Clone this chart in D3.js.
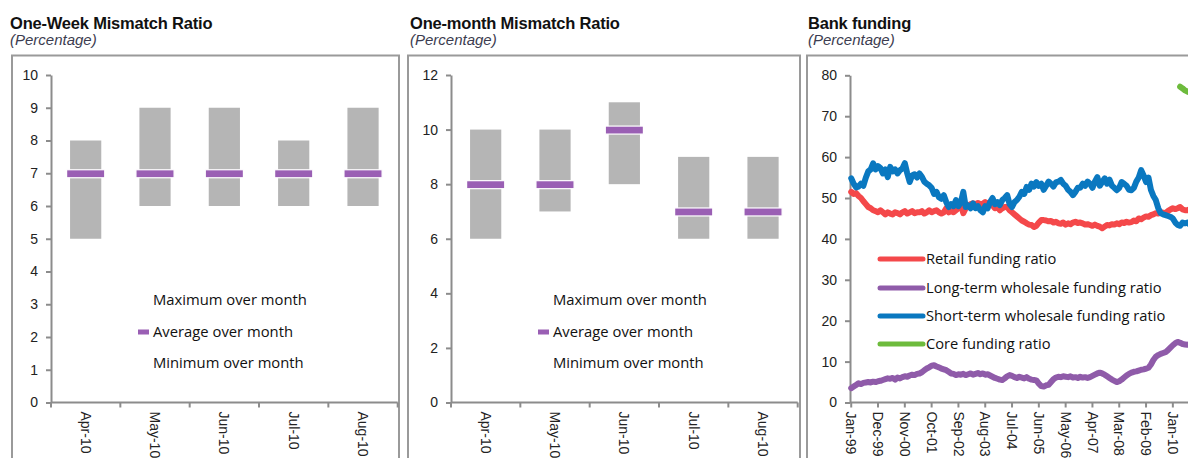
<!DOCTYPE html>
<html><head><meta charset="utf-8">
<script src="https://cdn.jsdelivr.net/npm/d3@7"></script>
<style>body{margin:0;background:#fff} svg{display:block}</style>
</head><body><svg id="c" width="1188" height="458"></svg>
<script>
// ---------- data ----------
const months = ["Apr-10","May-10","Jun-10","Jul-10","Aug-10"];
const weekMin = [5,6,6,6,6];
const weekMax = [8,9,9,8,9];
const weekAvg = [7,7,7,7,7];
const weekTicks = [0,1,2,3,4,5,6,7,8,9,10];
const monthMin = [6,7,8,6,6];
const monthMax = [10,10,11,9,9];
const monthAvg = [8,8,10,7,7];
const monthTicks = [0,2,4,6,8,10,12];
const barLegend = ["Maximum over month","Average over month","Minimum over month"];

const fundingFirstMonth = "1999-01";
const retail = [
51.5,51.0,51.2,50.5,50.0,49.2,48.5,47.8,47.5,47.0,
46.8,46.5,47.0,46.5,46.0,46.5,46.2,46.0,46.5,46.3,
46.0,46.5,46.8,46.2,46.5,46.8,46.3,46.5,46.5,46.8,
46.2,46.5,47.0,46.5,46.8,47.0,46.5,46.2,46.5,47.5,
46.5,46.8,46.5,47.0,47.5,48.5,46.3,47.5,48.0,48.5,
48.7,48.5,48.8,48.5,48.6,49.0,48.7,48.7,48.2,47.5,
47.8,47.0,47.5,47.8,47.8,47.0,46.5,46.0,45.5,45.0,
44.5,44.2,43.8,43.5,43.4,42.9,43.2,44.0,44.6,44.6,
44.5,44.3,44.4,44.0,44.2,43.8,43.7,44.0,43.5,43.8,
43.6,44.0,44.2,43.9,44.0,43.8,43.5,43.6,43.4,43.2,
43.5,43.2,43.0,42.6,43.0,43.4,43.3,43.6,43.5,43.8,
43.6,44.0,43.9,44.2,44.0,44.1,44.5,44.3,45.0,44.8,
45.2,45.5,45.4,45.8,46.0,46.3,46.2,46.5,46.4,46.3,
46.8,47.2,47.5,47.3,47.5,47.8,47.2,47.0,47.0,47.3,
47.1,47.0];
const longTerm = [
3.5,3.9,4.3,4.7,4.5,4.8,4.9,5.0,4.9,5.1,
5.0,5.2,5.3,5.5,5.7,5.9,5.8,6.0,5.6,6.1,
5.9,6.2,6.4,6.3,6.6,6.8,6.7,7.0,7.1,7.4,
7.9,8.3,8.6,9.0,9.1,8.8,8.6,8.3,8.1,7.9,
7.5,7.1,7.0,6.7,6.9,6.8,7.0,6.7,6.9,7.1,
6.8,7.0,7.2,6.9,7.1,6.8,6.9,6.6,6.3,6.0,
5.8,5.6,5.5,5.9,6.4,6.7,6.5,6.2,6.0,6.3,
6.1,5.9,6.2,5.8,5.6,5.5,5.4,4.6,4.0,3.9,
4.2,4.3,5.0,5.7,6.1,6.3,6.2,6.4,6.3,6.2,
6.4,6.1,6.2,6.0,6.3,6.1,6.2,6.0,6.2,6.5,
6.8,7.1,7.3,7.1,6.8,6.4,6.0,5.6,5.3,5.0,
5.2,5.6,6.1,6.6,7.0,7.3,7.5,7.6,7.8,8.0,
8.1,8.3,8.5,9.3,10.4,11.2,11.6,11.9,12.1,12.3,
12.8,13.4,14.0,14.5,14.8,14.6,14.3,14.2,14.1,14.3,
14.4,14.5];
const shortTerm = [
54.8,53.5,52.6,52.8,53.5,53.0,55.0,56.5,57.0,58.5,
57.0,57.8,57.3,56.0,57.0,55.1,57.6,56.5,57.0,56.0,
56.8,57.2,58.5,56.0,53.9,55.5,55.8,55.0,56.0,55.2,
54.0,53.5,53.1,52.5,51.0,51.5,50.2,49.8,50.7,49.0,
47.8,48.5,48.0,49.5,48.0,49.0,51.5,47.8,48.2,47.5,
48.7,47.5,48.0,47.0,46.5,48.0,47.5,49.0,50.0,48.5,
49.0,48.3,49.5,50.0,50.7,48.5,47.8,49.0,49.5,50.3,
51.5,51.0,52.7,52.0,53.5,52.8,53.9,53.0,53.5,52.0,
53.0,54.0,53.5,52.8,53.8,54.0,54.4,53.5,53.0,52.0,
51.5,50.7,51.5,52.5,52.5,53.5,53.0,54.0,53.5,52.5,
54.0,55.1,53.0,53.9,54.8,53.5,54.5,53.0,52.5,51.9,
52.5,53.9,53.5,53.0,52.0,51.9,52.5,54.0,55.0,56.8,
55.5,53.9,55.0,52.0,50.5,49.5,47.5,46.3,46.0,45.8,
45.6,45.4,45.0,44.0,43.4,43.2,44.0,43.8,44.0,43.5,
44.0,44.2];
const coreFirstMonth = "2010-04";
const core = [77.2,76.8,76.3,76.0,75.8,75.6,75.5];
const fundingTicks = [0,10,20,30,40,50,60,70,80];
const fundingLegend = ["Retail funding ratio","Long-term wholesale funding ratio","Short-term wholesale funding ratio","Core funding ratio"];

// ---------- styles ----------
const svg = d3.select("#c");
const GRID = "#8c8c8c", BAR = "#b5b5b5", AVG = "#9a5fb4";
const colors = ["#f4484a","#8f5ba9","#0a78c0","#6dbb3c"];
const TICKFONT = "Liberation Sans, Arial, sans-serif";
const LEGFONT = "Open Sans, sans-serif";

function header(x, title, sub) {
  svg.append("text").attr("x", x).attr("y", 29).text(title)
    .attr("font-family", TICKFONT).attr("font-weight", "bold").attr("font-size", 16.5)
    .attr("letter-spacing", -0.2).attr("fill", "#111");
  svg.append("text").attr("x", x).attr("y", 45).text(sub)
    .attr("font-family", TICKFONT).attr("font-style", "italic").attr("font-size", 15)
    .attr("fill", "#3c3c50");
}
function frame(x0, x1) {
  svg.append("rect").attr("x", x0).attr("y", 55.5).attr("width", x1 - x0).attr("height", 420)
    .attr("fill", "none").attr("stroke", "#9a9a9a").attr("stroke-width", 2);
}
function yAxis(g, y, ticks, x) {
  const ax = g.append("g").attr("transform", `translate(${x},0)`)
    .call(d3.axisLeft(y).tickValues(ticks).tickSize(5).tickSizeOuter(0).tickPadding(8));
  ax.select(".domain").attr("stroke", GRID).attr("stroke-width", 2);
  ax.selectAll(".tick line").attr("stroke", GRID).attr("stroke-width", 2);
  ax.selectAll("text").attr("font-family", TICKFONT).attr("font-size", 14).attr("fill", "#222");
}

function barPanel(o) {
  frame(o.frame[0], o.frame[1]);
  header(o.titleX, o.title, "(Percentage)");
  const g = svg.append("g");
  const y = d3.scaleLinear().domain([0, d3.max(o.ticks)]).range([402.5, 75]);
  const x = d3.scaleBand().domain(months).range(o.xr).padding(0);
  const bw = x.bandwidth() * 0.45;
  g.selectAll("rect.bar").data(months).join("rect").attr("class", "bar")
    .attr("x", d => x(d) + x.bandwidth() / 2 - bw / 2)
    .attr("y", (d, i) => y(o.max[i]))
    .attr("width", bw)
    .attr("height", (d, i) => y(o.min[i]) - y(o.max[i]))
    .attr("fill", BAR);
  const mw = x.bandwidth() * 0.55;
  g.selectAll("rect.avg").data(months).join("rect").attr("class", "avg")
    .attr("x", d => x(d) + x.bandwidth() / 2 - mw / 2)
    .attr("y", (d, i) => y(o.avg[i]) - 3.5)
    .attr("width", mw).attr("height", 8)
    .attr("fill", AVG).attr("stroke", "#fff").attr("stroke-width", 1.2);
  yAxis(g, y, o.ticks, o.xr[0]);
  // x axis
  const y0 = y(0);
  g.append("line").attr("x1", o.xr[0]).attr("x2", o.xr[1]).attr("y1", y0).attr("y2", y0)
    .attr("stroke", GRID).attr("stroke-width", 2);
  const edges = months.map(d => x(d)).concat([o.xr[1]]);
  g.selectAll("line.xt").data(edges).join("line").attr("class", "xt")
    .attr("x1", d => d).attr("x2", d => d).attr("y1", y0).attr("y2", y0 + 5)
    .attr("stroke", GRID).attr("stroke-width", 2);
  g.selectAll("text.xl").data(months).join("text").attr("class", "xl")
    .attr("transform", d => `translate(${x(d) + x.bandwidth() / 2},${y0 + 9}) rotate(90)`)
    .attr("dy", "0.35em").text(d => d)
    .attr("font-family", TICKFONT).attr("font-size", 14).attr("fill", "#222");
  // legend
  const lx = o.legX;
  const ly = [300, 332, 363];
  g.selectAll("text.lg").data(barLegend).join("text").attr("class", "lg")
    .attr("x", lx).attr("y", (d, i) => ly[i]).attr("dy", "0.35em").text(d => d)
    .attr("font-family", LEGFONT).attr("font-size", 14.8).attr("fill", "#111");
  g.append("rect").attr("x", lx - 15).attr("y", ly[1] - 2.5).attr("width", 11).attr("height", 5)
    .attr("fill", AVG);
}

barPanel({frame: [12, 399], titleX: 10, title: "One-Week Mismatch Ratio", xr: [51, 397.7],
  ticks: weekTicks, min: weekMin, max: weekMax, avg: weekAvg, legX: 153});
barPanel({frame: [408, 800], titleX: 410, title: "One-month Mismatch Ratio", xr: [451, 797.7],
  ticks: monthTicks, min: monthMin, max: monthMax, avg: monthAvg, legX: 553});

// ---------- funding panel ----------
(function () {
  frame(807, 1300);
  header(808, "Bank funding", "(Percentage)");
  const g = svg.append("g");
  const parse = d3.timeParse("%Y-%m");
  const start = parse(fundingFirstMonth);
  const dates = d3.range(retail.length).map(i => d3.timeMonth.offset(start, i));
  const x = d3.scaleBand().domain(d3.range(dates.length)).range([850, 1196]).padding(0);
  const cx = i => x(i) + x.bandwidth() / 2;
  const y = d3.scaleLinear().domain([0, 80]).range([402.5, 75.3]);
  yAxis(g, y, fundingTicks, 850);
  const y0 = y(0);
  g.append("line").attr("x1", 850).attr("x2", 1196).attr("y1", y0).attr("y2", y0)
    .attr("stroke", GRID).attr("stroke-width", 2);
  const fmt = d3.timeFormat("%b-%y");
  const tickIdx = d3.range(0, dates.length, 11);
  g.selectAll("line.xt").data(tickIdx).join("line").attr("class", "xt")
    .attr("x1", cx).attr("x2", cx).attr("y1", y0).attr("y2", y0 + 5)
    .attr("stroke", GRID).attr("stroke-width", 2);
  g.selectAll("text.xl").data(tickIdx).join("text").attr("class", "xl")
    .attr("transform", i => `translate(${cx(i)},${y0 + 9}) rotate(90)`)
    .attr("dy", "0.35em").text(i => fmt(dates[i]))
    .attr("font-family", TICKFONT).attr("font-size", 14).attr("fill", "#222");

  const coreOff = d3.timeMonth.count(start, parse(coreFirstMonth));
  const series = [
    retail.map((v, i) => [i, v]),
    longTerm.map((v, i) => [i, v]),
    shortTerm.map((v, i) => [i, v]),
    core.map((v, i) => [i + coreOff, v])
  ];
  const line = d3.line().x(d => cx(d[0])).y(d => y(d[1]));
  svg.append("clipPath").attr("id", "cl").append("rect")
    .attr("x", 840).attr("y", 60).attr("width", 400).attr("height", 345);
  g.append("g").attr("clip-path", "url(#cl)").selectAll("path").data(series).join("path")
    .attr("d", line).attr("fill", "none").attr("stroke", (d, i) => colors[i])
    .attr("stroke-width", 6).attr("stroke-linejoin", "round").attr("stroke-linecap", "round");

  const ly = [259, 288, 316, 344];
  fundingLegend.forEach((t, i) => {
    g.append("line").attr("x1", 880).attr("x2", 923).attr("y1", ly[i]).attr("y2", ly[i])
      .attr("stroke", colors[i]).attr("stroke-width", 5).attr("stroke-linecap", "round");
    g.append("text").attr("x", 926).attr("y", ly[i]).attr("dy", "0.35em").text(t)
      .attr("font-family", LEGFONT).attr("font-size", 14.7).attr("fill", "#111");
  });
})();
</script></body></html>
